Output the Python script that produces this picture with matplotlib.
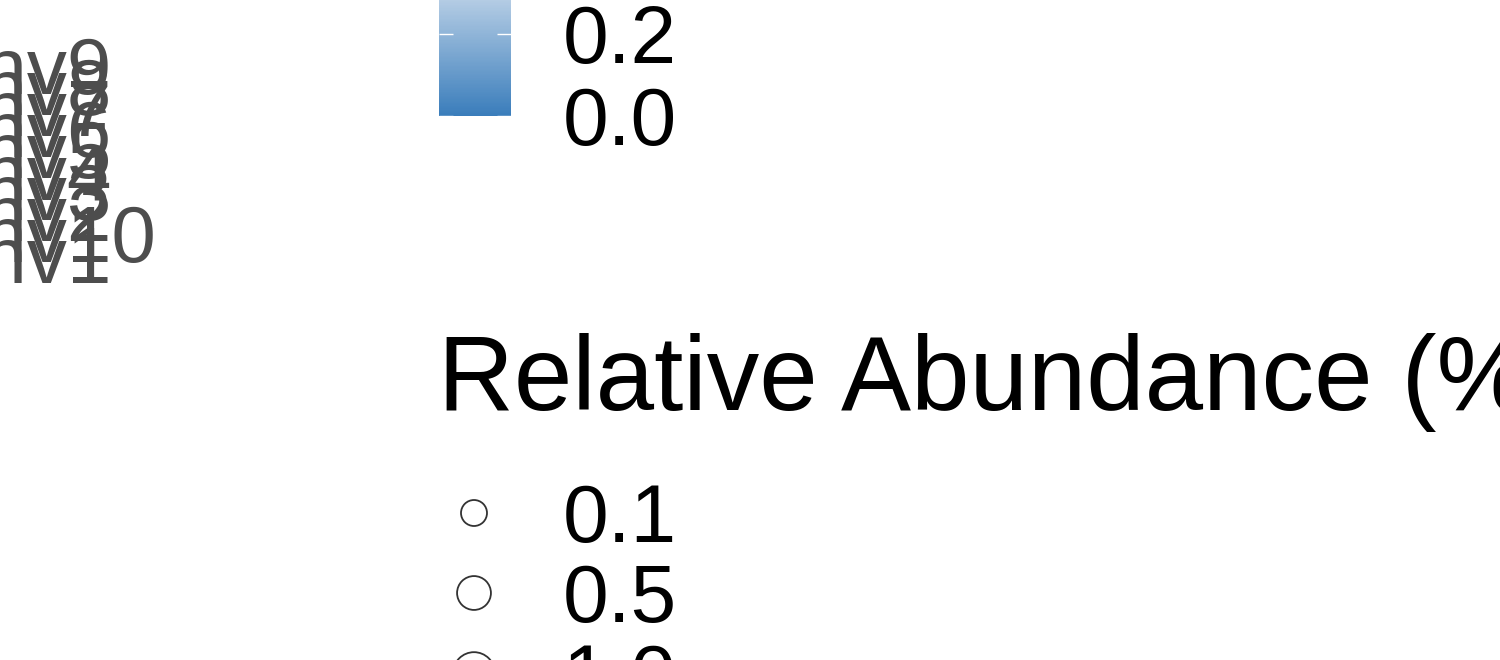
import numpy as np
import matplotlib
matplotlib.use("Agg")
import matplotlib.pyplot as plt
import matplotlib.transforms as mtrans
from matplotlib.colors import LinearSegmentedColormap, Normalize
from matplotlib.cm import ScalarMappable

plt.rcParams["font.family"] = ["Liberation Sans", "DejaVu Sans"]

# y categories (bottom -> top, ggplot alphabetical factor order)
rows = ["Env1", "Env10", "Env2", "Env3", "Env4", "Env5", "Env6", "Env7", "Env8", "Env9"]

# fill legend (colour bar)
fill_limits = [0.0, 0.8]
fill_breaks = [0.0, 0.2, 0.4, 0.6, 0.8]
fill_colors = ["#3A7DBB", "#B4CCE4", "#F4F8FC"]

# size legend
size_title = "Relative Abundance (%)"
size_breaks = [0.1, 0.5, 1.0]
size_range = [350, 900]   # marker area (pt^2) for min / max break

W, H = 1500, 660
fig = plt.figure(figsize=(W / 100, H / 100), dpi=100)
fig.patch.set_facecolor("white")

def px(v):
    # pixel size -> points
    return v * 0.72

# ---- y axis labels (left aligned, run off the left edge)
ax = fig.add_axes([0.0, (H - 293.5) / H, 0.3, 210 / H])
ax.set_ylim(-0.5, len(rows) - 0.5)
ax.axis("off")
trans = mtrans.blended_transform_factory(fig.transFigure, ax.transData)
for i, name in enumerate(rows):
    ax.text(-71 / W, i, name, transform=trans, ha="left", va="baseline",
            fontsize=px(80), color="#4D4D4D", clip_on=False)

# ---- colour bar
cmap = LinearSegmentedColormap.from_list(
    "abund", list(zip([0.0, 0.354, 1.0], fill_colors)))
norm = Normalize(*fill_limits)
cb_h = (fill_limits[1] - fill_limits[0]) * 410
cax = fig.add_axes([439 / W, (H - 116) / H, 72 / W, cb_h / H])
cb = fig.colorbar(ScalarMappable(norm=norm, cmap=cmap), cax=cax, ticks=fill_breaks)
cb.outline.set_visible(False)
cb.ax.minorticks_off()
cb.ax.set_yticklabels([f"{b:.1f}" for b in fill_breaks])
cb.ax.tick_params(axis="y", direction="in", length=px(14), width=1, color="white",
                  left=True, right=True, labelleft=False, labelright=True,
                  pad=px(52), labelsize=px(82), labelcolor="black")

# ---- size legend
lg = fig.add_axes([0, 0, 1, 1])
lg.set_xlim(0, W)
lg.set_ylim(H, 0)
lg.axis("off")
lg.text(438, 410, size_title, ha="left", va="baseline", fontsize=px(105), color="black")

lo, hi = min(size_breaks), max(size_breaks)
areas = [size_range[0] + (b - lo) / (hi - lo) * (size_range[1] - size_range[0]) for b in size_breaks]
key_y = [513 + 80 * i for i in range(len(size_breaks))]
lg.scatter([474] * len(size_breaks), key_y, s=areas, facecolor="white",
           edgecolor="#333333", linewidth=1.3, clip_on=False)
for y, b in zip(key_y, size_breaks):
    lg.text(563, y + 29, f"{b:.1f}", ha="left", va="baseline", fontsize=px(82), color="black")

fig.savefig("out.png", dpi=100)
